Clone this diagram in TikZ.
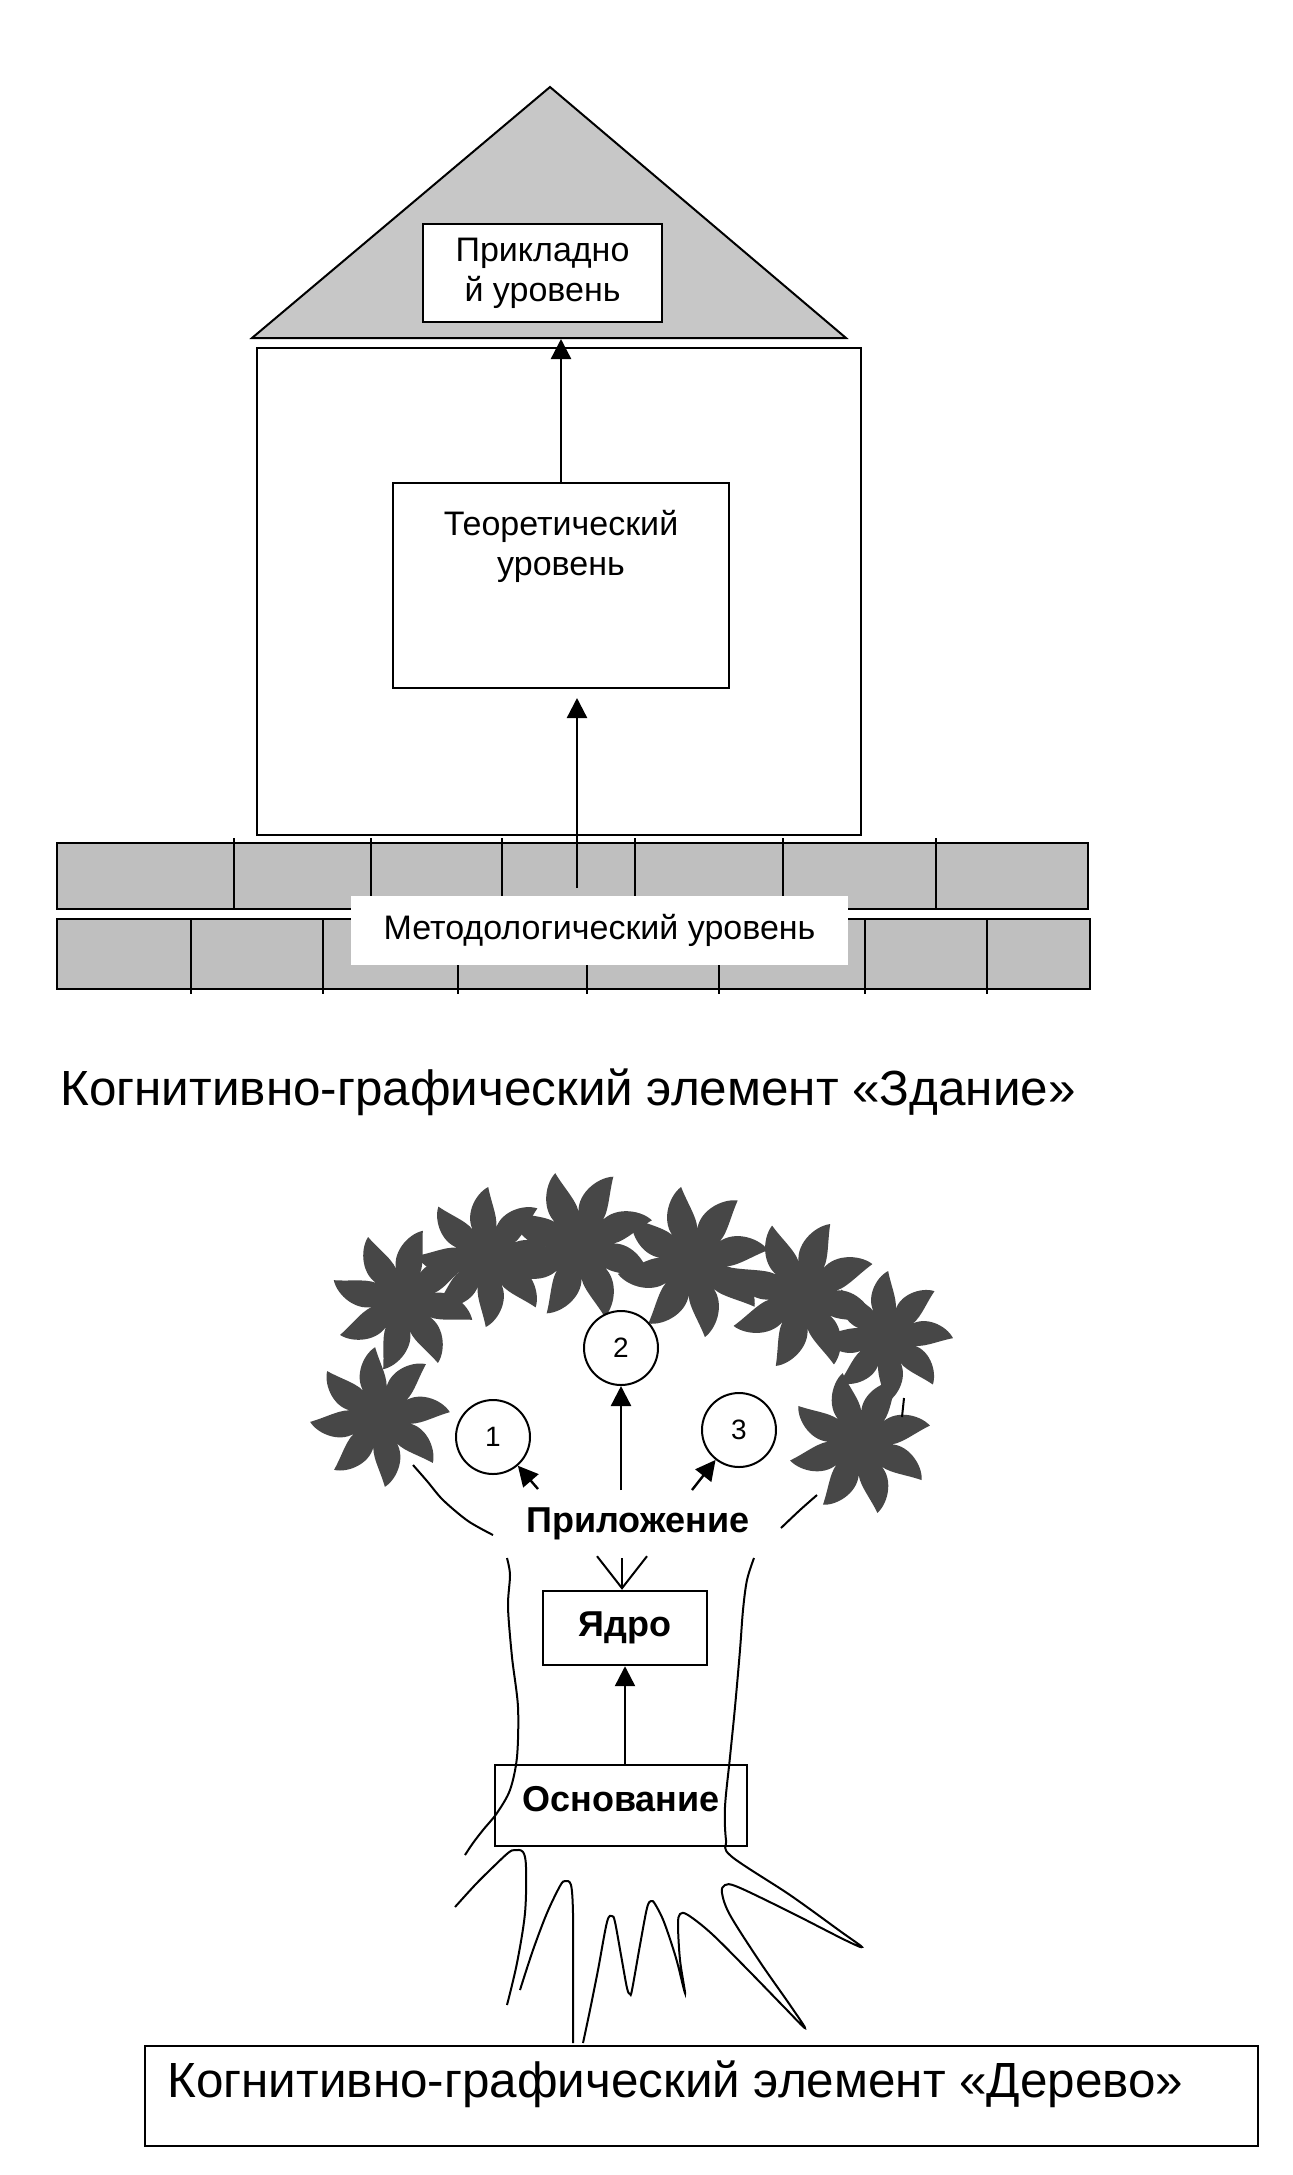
\documentclass[tikz,border=0pt]{standalone}
\usepackage{fontspec}
\setmainfont{Liberation Sans}
\usetikzlibrary{arrows.meta}
\newcommand{\crownleaf}[4]{%
  \begin{scope}[shift={(#1,#2)}, rotate=#4]
    \fill[leaf] (-22:0.38*#3)
      \foreach \k in {0,45,...,315} {
        .. controls (\k-26:0.66*#3) and (\k-6:0.92*#3) .. (\k+6:#3)
        .. controls (\k+10:0.75*#3) and (\k+24:0.55*#3) .. (\k+23:0.38*#3)
      } -- cycle;
  \end{scope}}
\begin{document}
\begin{tikzpicture}[x=0.5pt,y=-0.5pt,
  box/.style={draw, line width=1.2pt, inner sep=0pt},
  arr/.style={line width=1.2pt, -{Triangle[length=10pt,width=10pt]}},
  txt/.style={font=\fontsize{17}{20}\selectfont, align=center},
  btxt/.style={font=\bfseries\fontsize{18}{21}\selectfont},
  big/.style={font=\fontsize{24.7}{28}\selectfont},
  brick/.style={draw, line width=1.2pt, fill=black!25},
  leaf/.style={fill=black!72},
  ln/.style={line width=1pt},
  num/.style={circle, draw, line width=1pt, minimum size=37pt, inner sep=0pt, fill=white, font=\fontsize{14}{16}\selectfont}
]
\fill[white] (0,0) rectangle (1292,2175);
\useasboundingbox (0,0) rectangle (1292,2175);

% ---------------- House ----------------
\filldraw[fill=black!22, line width=1pt] (252,338) -- (550,87) -- (846,338) -- cycle;
\draw[line width=1.2pt] (257,348) rectangle (861,835);
\node[box, fill=white, minimum width=119.5pt, minimum height=49pt, txt] (prikl) at (542.5,273) {Прикладно\\й уровень};
\node[box, fill=white, minimum width=168pt, minimum height=102.5pt] (theor) at (561,585.5) {};
\node[txt] (theortext) at (561,546) {Теоретический\\уровень};
\coordinate (roofbase) at (564,339);
\draw[arr] (theor.north) -- (theor.north |- roofbase);

% bricks
\draw[brick] (57,843) rectangle (1088,909);
\draw[brick] (57,919) rectangle (1090,989);
\foreach \bx in {234,371,502,635,783,936}
  \draw[line width=1.2pt] (\bx,838) -- (\bx,909);
\foreach \bx in {191,323,458,587,719,865,987}
  \draw[line width=1.2pt] (\bx,919) -- (\bx,994);
\node[fill=white, inner sep=0pt, minimum width=248.5pt, minimum height=34.5pt, txt] (meth) at (599.5,930.5) {Методологический уровень};
\coordinate (m1) at (577,888);
\coordinate (m2) at (577,698);
\draw[arr] (m1) -- (m2);

\node[big, anchor=base west, inner sep=0pt] (title1) at (60,1105) {Когнитивно-графический элемент «Здание»};

% ---------------- Tree ----------------
\crownleaf{380}{1417}{70}{10}
\crownleaf{403}{1300}{72}{35}
\crownleaf{487}{1257}{70}{5}
\crownleaf{580}{1245}{76}{25}
\crownleaf{693}{1262}{76}{15}
\crownleaf{803}{1295}{76}{30}
\crownleaf{887}{1337}{66}{5}
\crownleaf{860}{1443}{72}{20}
\draw[ln] (904,1398) -- (902,1417);

% branches
\draw[ln] plot[smooth] coordinates {(413,1465) (427,1481) (443,1500) (468,1521) (493,1535)};
\draw[ln] plot[smooth] coordinates {(817,1495) (800,1510) (781,1528)};

% circles
\node[num] (c1) at (493,1437) {1};
\node[num] (c2) at (621,1348) {2};
\node[num] (c3) at (739,1430) {3};

\node[btxt] (app) at (638,1524) {Приложение};
\coordinate (t1) at (538,1489);
\coordinate (t2) at (621,1490);
\coordinate (t3) at (692,1490);
\draw[arr] (t1) -- (c1);
\draw[arr] (t2) -- (c2);
\draw[arr] (t3) -- (c3);

% core and base
\node[box, fill=white, minimum width=82pt, minimum height=37pt, btxt] (yadro) at (625,1628) {Ядро};
\coordinate (a0) at (622,1558);
\draw[line width=1pt, -{Straight Barb[length=16pt,width=25pt]}] (a0) -- (a0 |- yadro.north);

\node[box, minimum width=126pt, minimum height=40.5pt] (osn) at (621,1805.5) {};
\node[btxt] (osntext) at (621,1799) {Основание};
\draw[arr] (yadro.south |- osn.north) -- (yadro.south);

% trunk
\draw[ln] plot[smooth] coordinates {(507,1558) (510,1575) (508,1607) (512,1657) (518,1707) (517,1757) (510,1790) (497,1813) (483,1830) (473,1843) (465,1855)};
\draw[ln] plot[smooth, tension=0.55] coordinates {
  (754,1558) (747,1580) (743,1610) (740,1650) (735,1707) (730,1757) (725,1807) (726,1840) (731,1856)
  (790,1895) (840,1931) (862,1947) (845,1940) (790,1912) (738,1887) (725,1885) (722,1893) (730,1915)
  (760,1962) (790,2005) (805,2028) (785,2008) (750,1972) (712,1934) (688,1915) (680,1914) (678,1925)
  (680,1960) (685,1993) (676,1958) (664,1922) (655,1904) (651,1901) (647,1908) (640,1945) (632,1990)
  (630,1994) (627,1988) (621,1955) (615,1922) (612,1916) (607,1922) (598,1970) (590,2010) (583,2043)};
\draw[ln] plot[smooth, tension=0.55] coordinates {(520,1990) (533,1950) (547,1913) (560,1886) (565,1881) (571,1885) (573,1913) (573,1970) (573,2043)};
\draw[ln] plot[smooth, tension=0.55] coordinates {(455,1907) (475,1885) (490,1870) (508,1853) (515,1850) (523,1852) (526,1867) (525,1913) (517,1963) (507,2005)};

% bottom label
\node[box, anchor=north west, minimum width=556.5pt, minimum height=50pt] (lab2) at (144,2045) {};
\node[big, anchor=base west, inner sep=0pt] (lab2text) at (167,2097) {Когнитивно-графический элемент «Дерево»};
\end{tikzpicture}
\end{document}
